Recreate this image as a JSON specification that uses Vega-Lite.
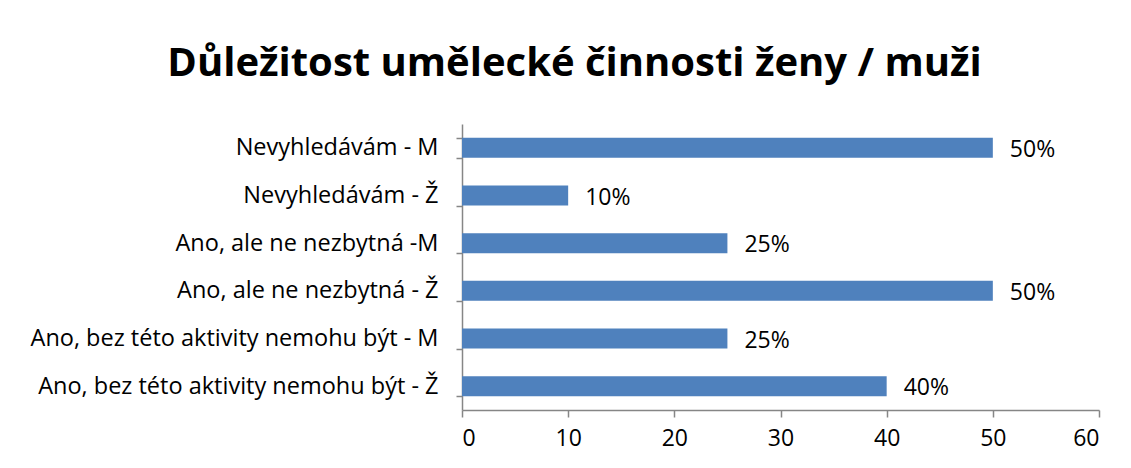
{
  "$schema": "https://vega.github.io/schema/vega-lite/v6.json",
  "autosize": "none",
  "width": 637,
  "height": 286,
  "padding": {"left": 462, "top": 124, "right": 32, "bottom": 58},
  "background": "white",
  "title": {
    "text": "Důležitost umělecké činnosti ženy / muži",
    "font": "Open Sans",
    "fontSize": 40,
    "fontWeight": "bold",
    "color": "black",
    "anchor": "middle",
    "frame": "group",
    "dx": -206,
    "offset": 28
  },
  "data": {
    "values": [
      {"category": "Nevyhledávám - M", "value": 50, "label": "50%"},
      {"category": "Nevyhledávám - Ž", "value": 10, "label": "10%"},
      {"category": "Ano, ale ne nezbytná -M", "value": 25, "label": "25%"},
      {"category": "Ano, ale ne nezbytná - Ž", "value": 50, "label": "50%"},
      {"category": "Ano, bez této aktivity nemohu být - M", "value": 25, "label": "25%"},
      {"category": "Ano, bez této aktivity nemohu být - Ž", "value": 40, "label": "40%"}
    ]
  },
  "encoding": {
    "y": {
      "field": "category",
      "type": "nominal",
      "sort": null,
      "scale": {"paddingInner": 0.58, "paddingOuter": 0.29},
      "axis": {
        "title": null,
        "domainColor": "#868686",
        "domainWidth": 1.5,
        "tickColor": "#868686",
        "tickWidth": 1.5,
        "tickSize": 6,
        "tickBand": "extent",
        "labelFont": "Open Sans",
        "labelFontSize": 23.5,
        "labelColor": "black",
        "labelPadding": 18,
        "labelLimit": 500
      }
    },
    "x": {
      "field": "value",
      "type": "quantitative",
      "scale": {"domain": [0, 60], "nice": false},
      "axis": {
        "title": null,
        "values": [0, 10, 20, 30, 40, 50, 60],
        "grid": false,
        "domainColor": "#868686",
        "domainWidth": 1.5,
        "tickColor": "#868686",
        "tickWidth": 1.5,
        "tickSize": 7,
        "labelFont": "Open Sans",
        "labelFontSize": 23,
        "labelColor": "black",
        "labelPadding": 10
      }
    }
  },
  "layer": [
    {"mark": {"type": "bar", "color": "#4F81BD"}},
    {
      "mark": {"type": "text", "align": "left", "dx": 17, "dy": 2, "font": "Open Sans", "fontSize": 23, "color": "black", "baseline": "middle"},
      "encoding": {"text": {"field": "label"}}
    }
  ],
  "config": {"view": {"stroke": null}}
}
